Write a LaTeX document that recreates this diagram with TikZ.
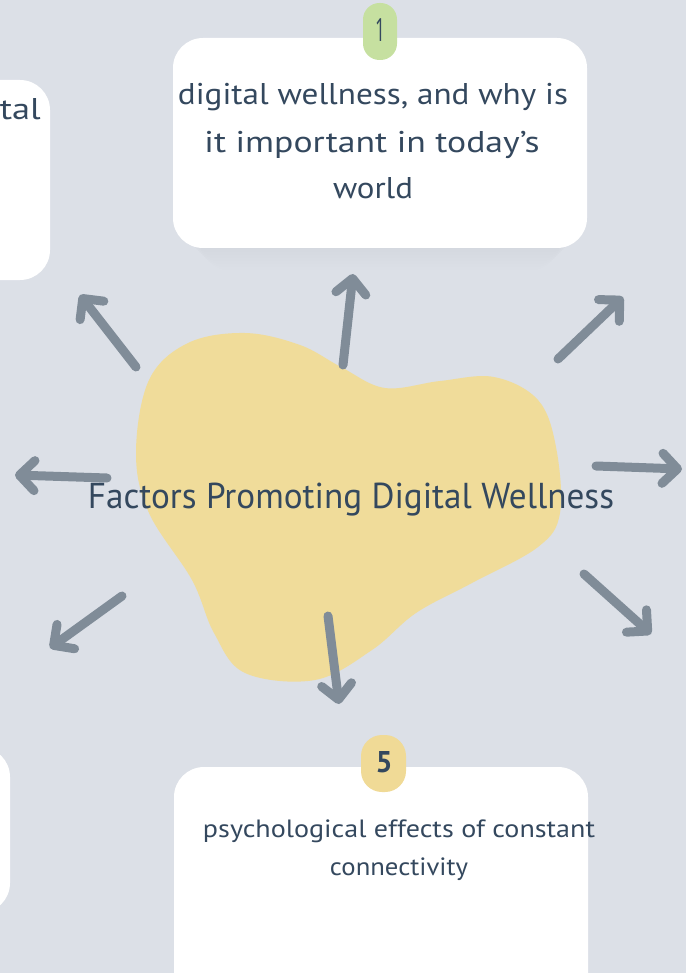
\documentclass[tikz,border=0pt]{standalone}
\usepackage{fontspec}
\setmainfont{PT Sans}
\newfontfamily\numfont{Open Sans}
\usetikzlibrary{arrows.meta}
\definecolor{bg}{RGB}{220,224,231}
\definecolor{ink}{RGB}{52,72,94}
\definecolor{arr}{RGB}{128,140,152}
\definecolor{blobc}{RGB}{240,220,154}
\definecolor{badgegreen}{RGB}{198,224,160}
\definecolor{badgeyellow}{RGB}{240,218,150}
\definecolor{shadowc}{RGB}{200,205,214}
\newcommand\fitw[2]{\resizebox{#1}{\height}{#2}}
\begin{document}
\begin{tikzpicture}[x=1pt,y=-1pt,
  card/.style={fill=white, rounded corners=30pt},
  arrowline/.style={draw=arr, line width=9pt, line cap=round,
    -{Straight Barb[length=15pt,width=30pt,round]}},
  txt/.style={text=ink, inner sep=0pt, anchor=base},
]
\useasboundingbox (0,0) rectangle (686,973);
\clip (0,0) rectangle (686,973);
\fill[bg] (0,0) rectangle (686,973);

% soft shadow under top card
\foreach \k in {1,...,8}{
  \fill[shadowc, opacity=0.04, rounded corners=30pt] (176+\k*3,40+\k) rectangle (584-\k*3,246+\k*3);
}

% cards
\fill[card] (-40,80) rectangle (50,280);
\fill[card] (-60,747) rectangle (10,913);
\fill[card] (173,38) rectangle (587,248);
\fill[card] (174,767) rectangle (588,1010);

% badges
\fill[badgegreen, rounded corners=16.5pt] (363,3) rectangle (397,60);
\node[txt, anchor=base, font=\numfont\fontsize{32}{32}\selectfont] (n1) at (380,42) {\fitw{10pt}{1}};
\fill[badgeyellow, rounded corners=21pt] (361,735) rectangle (406,792);
\node[txt, anchor=base, font=\fontsize{30}{30}\selectfont\bfseries] (n5) at (384,772) {5};

% card texts
\node[txt, font=\fontsize{30}{36}\selectfont] (t1a) at (373,105) {\fitw{390pt}{digital wellness, and why is}};
\node[txt, font=\fontsize{30}{36}\selectfont] (t1b) at (372,153) {\fitw{335pt}{it important in today's}};
\node[txt, font=\fontsize{30}{36}\selectfont] (t1c) at (373,199) {\fitw{80pt}{world}};
\node[txt, anchor=base east, font=\fontsize{30}{36}\selectfont] (t0) at (41,120) {\fitw{41pt}{tal}};
\node[txt, font=\fontsize{25}{30}\selectfont] (t5a) at (399,837) {\fitw{392pt}{psychological effects of constant}};
\node[txt, font=\fontsize{25}{30}\selectfont] (t5b) at (399,875) {\fitw{138pt}{connectivity}};

% blob
\fill[blobc] plot[smooth cycle, tension=0.6] coordinates {
  (245,333) (300,345) (341,367) (385,388) (440,381) (494,377) (538,400) (556,447)
  (560,513) (538,547) (472,583) (416,613) (372,650) (315,680) (245,673)
  (214,633) (192,580) (149,513) (136,453) (149,380) (188,343)};

% arrows
\coordinate (aUs) at (343,365);  \coordinate (aUe) at (353,274);
\coordinate (aULs) at (136,367); \coordinate (aULe) at (80,295);
\coordinate (aURs) at (558,359); \coordinate (aURe) at (623,297);
\coordinate (aLs) at (107,478);  \coordinate (aLe) at (15,475);
\coordinate (aRs) at (596,466);  \coordinate (aRe) at (682,469);
\coordinate (aDLs) at (122,596); \coordinate (aDLe) at (50,648);
\coordinate (aDRs) at (584,574); \coordinate (aDRe) at (651,634);
\coordinate (aDs) at (328,616);  \coordinate (aDe) at (339,704);
\foreach \a in {U,UL,UR,L,R,DL,DR,D}{
  \draw[arrowline] (a\a s) -- (a\a e);
}

% title
\node[txt, font=\fontsize{36}{40}\selectfont] (title) at (351,508) {\fitw{526pt}{Factors Promoting Digital Wellness}};
\end{tikzpicture}
\end{document}
